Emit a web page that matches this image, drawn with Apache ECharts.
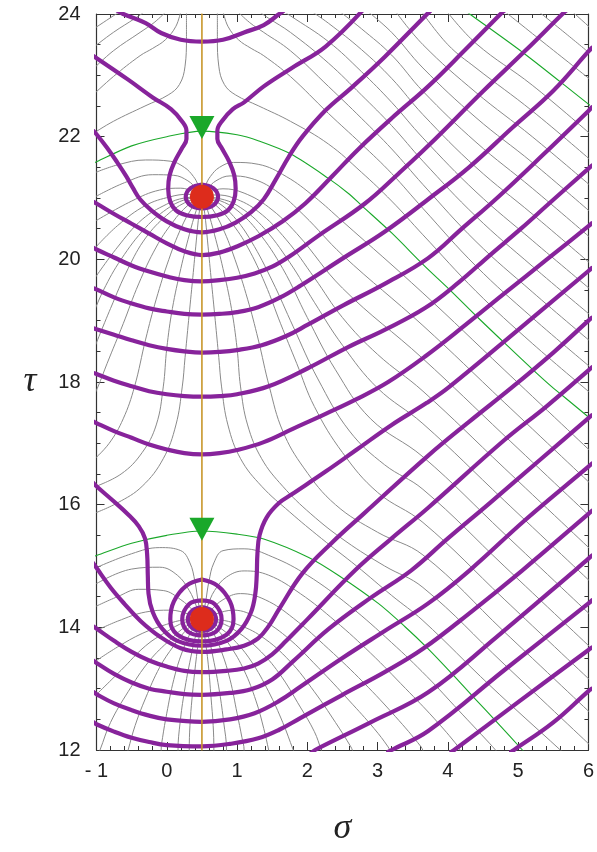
<!DOCTYPE html>
<html>
<head>
<meta charset="utf-8">
<script src="https://cdn.jsdelivr.net/npm/echarts@6/dist/echarts.min.js"></script>
<style>
  html, body { margin: 0; padding: 0; background: #fff; }
  #chart { width: 597px; height: 852px; }
</style>
</head>
<body>
<div id="chart"></div>
<script>
// Axis ranges and ticks
const sigmaTicks = [-1, 0, 1, 2, 3, 4, 5, 6];
const tauTicks = [12, 14, 16, 18, 20, 22, 24];

// Critical line, zeros and marked points on it
const criticalLine = [[0.5, 12], [0.5, 24]];
const zeroPoints = [[0.5, 14.1347], [0.5, 21.0220]];
const markedPoints = [[0.5, 15.6], [0.5, 22.15]];

// Modulus level curves (thick purple), each a list of [sigma, tau]
const ringUpper = [[0.5,21.22],[0.66,21.16],[0.73,21.02],[0.66,20.88],[0.5,20.83],[0.34,20.88],[0.27,21.02],[0.34,21.16],[0.5,21.22]];
const ringLower1 = [[0.5,14.33],[0.64,14.27],[0.7,14.13],[0.64,13.99],[0.5,13.94],[0.36,13.99],[0.3,14.13],[0.36,14.27],[0.5,14.33]];
const ringLower2 = [[0.5,14.44],[0.68,14.38],[0.78,14.13],[0.7,13.93],[0.5,13.87],[0.3,13.93],[0.22,14.13],[0.32,14.38],[0.5,14.44]];
const ringLower3 = [[0.5,14.78],[0.72,14.68],[0.9,14.42],[0.95,14.13],[0.85,13.88],[0.5,13.77],[0.15,13.88],[0.05,14.13],[0.1,14.42],[0.28,14.68],[0.5,14.78]];
const levelP1 = [[-0.7,24.05],[-0.62,24],[-0.3,23.85],[-0.08,23.69],[0.2,23.58],[0.5,23.55],[0.8,23.58],[1.1,23.7],[1.38,23.82],[1.6,24],[1.66,24.05]];
const levelP2 = [[-1.05,23.32],[-0.55,22.93],[-0.2,22.64],[0.06,22.45],[0.21,22.26],[0.28,22.1],[0.28,21.96],[0.21,21.8],[0.11,21.59],[0.04,21.37],[0.02,21.15],[0.05,20.94],[0.13,20.8],[0.28,20.72],[0.5,20.69],[0.72,20.72],[0.87,20.8],[0.95,20.94],[0.98,21.15],[0.96,21.37],[0.89,21.59],[0.79,21.8],[0.72,21.96],[0.72,22.1],[0.79,22.26],[0.94,22.45],[1.1,22.56],[1.38,22.82],[1.78,23.12],[2.26,23.47],[2.78,24.05]];
const levelC = [[-1.05,22.1],[-1,22.04],[-0.85,21.82],[-0.71,21.59],[-0.58,21.36],[-0.48,21.16],[-0.38,20.98],[-0.22,20.8],[0,20.62],[0.25,20.49],[0.5,20.44],[0.75,20.49],[0.98,20.6],[1.2,20.77],[1.38,20.98],[1.55,21.3],[1.74,21.68],[1.93,22.0],[2.26,22.43],[2.63,22.8],[3.1,23.3],[3.67,23.96],[3.75,24.05]];
const levelD = [[-1.05,20.94],[-1,20.91],[-0.75,20.74],[-0.5,20.58],[-0.25,20.42],[0,20.26],[0.25,20.13],[0.5,20.07],[0.75,20.11],[1.0,20.21],[1.31,20.38],[1.65,20.62],[1.97,20.91],[2.35,21.35],[2.73,21.8],[3.2,22.3],[3.72,22.82],[4.25,23.42],[4.75,24],[4.8,24.05]];
const levelE = [[-1.05,20.19],[-1,20.16],[-0.75,20.03],[-0.5,19.9],[-0.25,19.8],[0,19.72],[0.25,19.66],[0.5,19.64],[0.75,19.66],[1.0,19.7],[1.25,19.77],[1.5,19.88],[1.75,20.05],[2.14,20.37],[2.82,20.91],[3.3,21.4],[3.72,21.85],[4.5,22.74],[5.1,23.4],[5.63,24],[5.68,24.05]];
const levelH = [[-1.05,19.53],[-1,19.51],[-0.75,19.38],[-0.5,19.28],[-0.25,19.2],[0,19.15],[0.25,19.11],[0.5,19.1],[0.75,19.11],[1.0,19.14],[1.3,19.22],[1.6,19.37],[1.9,19.57],[2.51,20.02],[3.1,20.45],[3.72,20.98],[4.3,21.5],[4.92,22.15],[5.5,22.75],[6,23.39],[6.05,23.45]];
const levelI = [[-1.05,18.88],[-1,18.86],[-0.75,18.77],[-0.5,18.68],[-0.25,18.6],[0,18.54],[0.25,18.5],[0.5,18.48],[0.75,18.49],[1.0,18.52],[1.35,18.6],[1.7,18.75],[2.0,18.93],[2.51,19.25],[3.1,19.6],[3.72,20.02],[4.2,20.5],[4.7,21.0],[5.35,21.7],[6,22.42],[6.05,22.48]];
const levelJ = [[-1.05,18.15],[-1,18.13],[-0.75,18.02],[-0.5,17.93],[-0.25,17.85],[0,17.8],[0.25,17.77],[0.5,17.76],[0.75,17.77],[1.0,17.8],[1.45,17.93],[2.0,18.22],[2.58,18.57],[3.1,18.85],[3.68,19.21],[4.15,19.62],[4.6,20.07],[5.04,20.5],[5.44,20.91],[6,21.48],[6.05,21.53]];
const levelK = [[-1.05,17.36],[-1,17.33],[-0.75,17.2],[-0.5,17.09],[-0.25,16.98],[0,16.9],[0.25,16.84],[0.5,16.82],[0.75,16.84],[1.0,16.89],[1.38,17.02],[1.8,17.24],[2.26,17.48],[2.7,17.72],[3.15,18.0],[3.68,18.42],[4.25,18.93],[4.8,19.44],[5.4,19.99],[6,20.54],[6.05,20.59]];
const levelL = [[-1.05,16.36],[-1,16.3],[-0.78,16.08],[-0.55,15.84],[-0.4,15.65],[-0.31,15.45],[-0.28,15.2],[-0.27,14.85],[-0.26,14.55],[-0.2,14.25],[-0.06,13.97],[0.15,13.78],[0.5,13.7],[0.85,13.78],[1.06,13.97],[1.2,14.25],[1.26,14.55],[1.28,14.85],[1.29,15.2],[1.32,15.5],[1.42,15.79],[1.6,16.03],[1.78,16.17],[2.26,16.54],[2.73,16.92],[3.2,17.3],[3.7,17.66],[4.02,17.92],[5.0,18.85],[6,19.81],[6.05,19.86]];
const levelM = [[-1.05,15.05],[-1,14.97],[-0.8,14.65],[-0.6,14.38],[-0.37,14.1],[-0.1,13.85],[0.2,13.66],[0.5,13.6],[0.85,13.64],[1.1,13.7],[1.3,13.82],[1.45,14.02],[1.6,14.3],[1.93,14.88],[2.35,15.38],[2.8,15.85],[3.72,16.8],[4.3,17.35],[4.92,17.92],[5.5,18.48],[6,19.0],[6.05,19.05]];
const levelN = [[-1.05,14.02],[-1,13.98],[-0.75,13.78],[-0.5,13.6],[-0.25,13.46],[0,13.36],[0.25,13.29],[0.5,13.27],[0.85,13.29],[1.1,13.33],[1.3,13.41],[1.5,13.56],[1.7,13.78],[2.0,14.13],[2.68,14.93],[3.2,15.45],[3.72,15.95],[4.8,17.05],[5.4,17.6],[6,18.19],[6.05,18.24]];
const levelO = [[-1.05,13.46],[-1,13.42],[-0.75,13.24],[-0.5,13.1],[-0.25,13.0],[0,12.95],[0.25,12.91],[0.5,12.9],[0.9,12.93],[1.2,12.99],[1.5,13.15],[1.8,13.45],[2.3,13.97],[2.9,14.48],[3.48,14.93],[4.0,15.45],[4.6,16.03],[5.3,16.72],[6,17.41],[6.05,17.46]];
const levelP = [[-1.05,12.95],[-1,12.91],[-0.75,12.76],[-0.5,12.65],[-0.25,12.56],[0,12.5],[0.5,12.46],[0.9,12.5],[1.25,12.6],[1.6,12.8],[1.9,13.03],[2.5,13.5],[3.1,13.94],[3.72,14.39],[4.31,14.93],[5.1,15.75],[6,16.62],[6.05,16.67]];
const levelQ = [[-1.05,12.46],[-1,12.42],[-0.75,12.3],[-0.5,12.2],[-0.25,12.13],[0,12.08],[0.5,12.06],[0.9,12.1],[1.3,12.19],[1.6,12.33],[1.9,12.52],[2.5,12.9],[3.1,13.27],[3.645,13.65],[4.35,14.27],[5.06,14.93],[6,15.85],[6.05,15.9]];
const levelR = [[2.05,11.95],[2.11,12.0],[2.9,12.45],[3.72,12.94],[4.7,13.85],[5.81,14.93],[6,15.12],[6.05,15.17]];
const levelS = [[3.15,11.97],[3.2,12.0],[3.72,12.31],[4.8,13.3],[6,14.39],[6.05,14.44]];
const levelT = [[4.05,11.97],[4.09,12.0],[5.0,12.78],[6,13.63],[6.05,13.67]];
const levelU = [[4.9,11.97],[4.94,12.0],[5.5,12.45],[6,12.96],[6.05,13.0]];

// Phase curves through the marked points (thin green)
const greenUpper = [[-1.05,21.56],[-1,21.59],[-0.5,21.85],[0,22.0],[0.5,22.09],[1.0,22.03],[1.31,21.93],[1.76,21.72],[2.3,21.32],[2.59,21.07],[2.77,20.88],[3.2,20.43],[3.67,19.89],[4.02,19.51],[4.4,19.08],[4.82,18.62],[5.2,18.21],[5.48,17.92],[5.63,17.78],[6,17.43],[6.05,17.38]];
const greenLower = [[-1.05,15.15],[-1,15.17],[-0.5,15.37],[0,15.5],[0.5,15.57],[1.0,15.52],[1.38,15.44],[2.02,15.14],[2.44,14.85],[3.01,14.39],[3.39,14.01],[3.72,13.65],[4.07,13.23],[4.35,12.88],[4.7,12.45],[5.06,12.0],[5.1,11.95]];
const greenTop = [[4.25,24.05],[4.31,24],[5.08,23.36],[6,22.53],[6.05,22.49]];

// Phase curves (thin grey) above the upper marked point, left of the critical line
const phaseTopLeft = [
  [[0.28,24.05],[0.28,23.6],[0.26,23.15],[0.18,22.85],[0.02,22.68],[-0.31,22.5],[-0.76,22.25],[-1.05,22.05]],
  [[0.2,24.05],[0.13,23.8],[-0.02,23.58],[-0.2,23.44],[-0.38,23.32],[-0.76,22.98],[-1.05,22.68]],
  [[0.0,24.05],[-0.18,23.86],[-0.38,23.7],[-0.76,23.4],[-1.05,23.1]],
  [[-0.3,24.05],[-0.45,23.93],[-0.76,23.7],[-1.05,23.45]],
  [[-0.65,24.05],[-0.76,23.97],[-1.05,23.75]]
];
// ... and right of it, down to the upper green curve
const phaseTopRight = [
  [[0.72,24.05],[0.72,23.6],[0.74,23.15],[0.82,22.85],[0.98,22.68],[1.31,22.5],[1.76,22.25],[2.3,21.88],[2.77,21.42],[3.2,20.95],[3.645,20.4],[4.4,19.48],[5.2,18.63],[6.05,17.8]],
  [[0.8,24.05],[0.87,23.8],[1.02,23.58],[1.2,23.44],[1.38,23.32],[1.76,22.98],[2.3,22.38],[2.77,21.88],[3.2,21.4],[3.645,20.83],[4.4,19.89],[5.2,19.05],[6.05,18.22]],
  [[1.0,24.05],[1.18,23.86],[1.38,23.7],[1.76,23.4],[2.3,22.82],[2.77,22.3],[3.2,21.8],[3.645,21.22],[4.4,20.29],[5.2,19.47],[6.05,18.64]],
  [[1.3,24.05],[1.45,23.93],[1.76,23.7],[2.3,23.2],[2.77,22.68],[3.2,22.18],[3.645,21.6],[4.4,20.7],[5.2,19.89],[6.05,19.07]],
  [[1.65,24.05],[1.76,23.97],[2.3,23.55],[2.77,23.06],[3.2,22.56],[3.645,21.98],[4.4,21.1],[5.2,20.31],[6.05,19.49]],
  [[2.05,24.05],[2.3,23.85],[2.77,23.42],[3.2,22.95],[3.645,22.36],[4.4,21.5],[5.2,20.74],[6.05,19.91]],
  [[2.45,24.05],[2.77,23.76],[3.2,23.33],[3.645,22.74],[4.4,21.91],[5.2,21.16],[6.05,20.33]],
  [[2.85,24.05],[3.2,23.7],[3.645,23.12],[4.4,22.31],[5.2,21.58],[6.05,20.75]],
  [[3.25,24.05],[3.645,23.5],[4.4,22.72],[5.2,22.0],[6.05,21.18]],
  [[3.62,24.05],[4.0,23.5],[4.4,23.12],[5.2,22.42],[6.05,21.6]],
  [[3.98,24.05],[4.4,23.52],[5.2,22.84],[6.05,22.02]],
  [[4.8,24.05],[5.4,23.5],[6.05,22.91]],
  [[5.28,24.05],[5.7,23.66],[6.05,23.33]],
  [[5.76,24.05],[6.05,23.75]]
];

// Phase curves leaving the upper zero
const spokesUpper = [
  [[0.5,21.02],[0.45,21.2],[0.38,21.35],[0.25,21.5],[0.05,21.6],[-0.3,21.62],[-0.7,21.54],[-1.05,21.4]],
  [[0.5,21.02],[0.42,21.15],[0.3,21.28],[0.1,21.37],[-0.2,21.38],[-0.6,21.25],[-1.05,21.0]],
  [[0.5,21.02],[0.38,21.1],[0.2,21.16],[-0.1,21.13],[-0.5,20.95],[-1.05,20.6]],
  [[0.5,21.02],[0.3,21.06],[0.05,21.02],[-0.3,20.88],[-0.7,20.55],[-1.05,20.15]],
  [[0.5,21.02],[0.25,21.0],[0.0,20.9],[-0.35,20.65],[-0.7,20.2],[-1.05,19.65]],
  [[0.5,21.02],[0.25,20.97],[0.0,20.82],[-0.3,20.52],[-0.65,20.0],[-0.9,19.5],[-1.05,19.1]],
  [[0.5,21.02],[0.25,20.92],[0.0,20.72],[-0.3,20.35],[-0.55,19.85],[-0.8,19.2],[-1.05,18.5]],
  [[0.5,21.02],[0.3,20.88],[0.08,20.6],[-0.15,20.2],[-0.4,19.6],[-0.62,18.95],[-0.85,18.3],[-0.98,17.92],[-1.05,17.75]],
  [[0.5,21.02],[0.36,20.84],[0.2,20.5],[0.03,20.0],[-0.15,19.35],[-0.3,18.7],[-0.46,17.92],[-0.62,17.4],[-0.82,17.0],[-1.05,16.72]],
  [[0.5,21.02],[0.42,20.8],[0.32,20.4],[0.2,19.85],[0.08,19.2],[0.0,18.55],[-0.05,17.92],[-0.15,17.3],[-0.35,16.85],[-0.65,16.5],[-1.05,16.28]],
  [[0.5,21.02],[0.46,20.75],[0.42,20.3],[0.37,19.7],[0.31,19.0],[0.26,18.4],[0.22,17.92],[0.13,17.3],[-0.05,16.75],[-0.35,16.3],[-0.7,16.03],[-1.05,15.85]],
  [[0.5,21.02],[0.55,21.2],[0.62,21.35],[0.75,21.5],[0.95,21.58],[1.3,21.55],[1.7,21.35],[2.1,21.02],[2.5,20.62],[3.645,19.45],[4.8,18.2],[6.05,16.85]],
  [[0.5,21.02],[0.58,21.15],[0.7,21.28],[0.9,21.36],[1.2,21.32],[1.55,21.12],[1.95,20.72],[2.5,20.07],[3.645,18.92],[4.8,17.67],[6.05,16.32]],
  [[0.5,21.02],[0.62,21.1],[0.8,21.15],[1.1,21.08],[1.45,20.85],[1.85,20.42],[2.5,19.53],[3.645,18.38],[4.8,17.13],[6.05,15.78]],
  [[0.5,21.02],[0.7,21.05],[0.95,21.0],[1.3,20.78],[1.7,20.32],[2.1,19.7],[2.5,19.05],[3.0,18.45],[3.645,17.85],[4.8,16.6],[6.05,15.25]],
  [[0.5,21.02],[0.75,20.99],[1.0,20.88],[1.35,20.55],[1.75,19.95],[2.1,19.3],[2.5,18.6],[3.0,17.9],[3.645,17.32],[4.8,16.07],[6.05,14.72]],
  [[0.5,21.02],[0.75,20.96],[1.0,20.8],[1.3,20.45],[1.65,19.85],[2.0,19.05],[2.4,18.2],[2.9,17.4],[3.645,16.78],[4.8,15.53],[6.05,14.18]],
  [[0.5,21.02],[0.72,20.93],[0.95,20.7],[1.2,20.3],[1.5,19.65],[1.8,18.9],[2.15,18.05],[2.6,17.2],[3.1,16.65],[3.645,16.25],[4.8,15.0],[6.05,13.65]],
  [[0.5,21.02],[0.7,20.88],[0.92,20.6],[1.15,20.2],[1.4,19.6],[1.62,18.95],[1.85,18.3],[2.1,17.6],[2.5,16.85],[3.0,16.2],[3.645,15.71],[4.8,14.46],[6.05,13.11]],
  [[0.5,21.02],[0.64,20.84],[0.8,20.5],[0.97,20.0],[1.15,19.35],[1.3,18.7],[1.46,17.92],[1.65,17.2],[1.95,16.6],[2.4,16.0],[3.0,15.55],[3.645,15.18],[4.8,13.93],[6.05,12.58]],
  [[0.5,21.02],[0.58,20.8],[0.68,20.4],[0.8,19.85],[0.92,19.2],[1.0,18.55],[1.05,17.92],[1.15,17.3],[1.35,16.75],[1.65,16.3],[2.05,15.85],[2.55,15.4],[3.1,15.0],[3.645,14.65],[4.8,13.4],[6.05,12.05]],
  [[0.5,21.02],[0.54,20.75],[0.58,20.3],[0.63,19.7],[0.69,19.0],[0.74,18.4],[0.78,17.92],[0.87,17.3],[1.05,16.75],[1.35,16.3],[1.75,15.88],[2.2,15.45],[2.7,15.0],[3.2,14.52],[3.645,14.11],[4.6,13.05],[5.6,12.0],[5.65,11.95]]
];

// Phase curves leaving the lower zero
const spokesLower = [
  [[0.5,14.13],[0.45,14.4],[0.4,14.75],[0.33,15.05],[0.2,15.25],[-0.1,15.3],[-0.5,15.2],[-1.05,14.95]],
  [[0.5,14.13],[0.42,14.35],[0.32,14.6],[0.15,14.85],[-0.1,14.98],[-0.5,14.95],[-1.05,14.68]],
  [[0.5,14.13],[0.38,14.27],[0.2,14.45],[-0.05,14.6],[-0.4,14.62],[-0.7,14.5],[-1.05,14.32]],
  [[0.5,14.13],[0.3,14.22],[0.05,14.28],[-0.3,14.25],[-0.7,14.1],[-1.05,13.92]],
  [[0.5,14.13],[0.25,14.12],[0.0,14.05],[-0.35,13.9],[-0.7,13.68],[-1.05,13.42]],
  [[0.5,14.13],[0.25,14.08],[0.0,13.93],[-0.3,13.7],[-0.65,13.3],[-1.05,12.85]],
  [[0.5,14.13],[0.28,14.02],[0.05,13.8],[-0.25,13.45],[-0.55,12.95],[-0.8,12.45],[-0.95,12.0],[-0.97,11.95]],
  [[0.5,14.13],[0.3,13.98],[0.1,13.7],[-0.1,13.35],[-0.3,12.85],[-0.45,12.4],[-0.55,12.0],[-0.56,11.95]],
  [[0.5,14.13],[0.36,13.95],[0.22,13.6],[0.1,13.15],[0.0,12.6],[-0.06,12.2],[-0.08,12.0],[-0.08,11.95]],
  [[0.5,14.13],[0.42,13.9],[0.34,13.5],[0.25,12.95],[0.19,12.45],[0.16,12.0],[0.16,11.95]],
  [[0.5,14.13],[0.46,13.85],[0.41,13.4],[0.36,12.85],[0.33,12.4],[0.32,12.0],[0.32,11.95]],
  [[0.5,14.13],[0.55,14.4],[0.6,14.75],[0.67,15.05],[0.8,15.25],[1.1,15.28],[1.5,15.15],[2.0,14.85],[2.6,14.35],[3.2,13.75],[3.7,13.2],[4.15,12.65],[4.6,12.1],[4.7,11.97]],
  [[0.5,14.13],[0.58,14.35],[0.68,14.6],[0.85,14.82],[1.1,14.92],[1.45,14.85],[1.9,14.55],[2.4,14.1],[2.9,13.58],[3.4,13.0],[3.8,12.52],[4.15,12.05],[4.18,11.97]],
  [[0.5,14.13],[0.62,14.27],[0.8,14.45],[1.05,14.55],[1.4,14.45],[1.8,14.15],[2.3,13.65],[2.8,13.1],[3.25,12.55],[3.62,12.05],[3.65,11.97]],
  [[0.5,14.13],[0.7,14.22],[0.95,14.28],[1.3,14.15],[1.7,13.85],[2.15,13.35],[2.6,12.8],[2.95,12.35],[3.15,12.05],[3.18,11.97]],
  [[0.5,14.13],[0.75,14.12],[1.0,14.05],[1.35,13.85],[1.75,13.45],[2.1,12.95],[2.4,12.45],[2.62,12.05],[2.65,11.97]],
  [[0.5,14.13],[0.75,14.08],[1.0,13.93],[1.3,13.65],[1.6,13.25],[1.9,12.7],[2.1,12.3],[2.2,12.0],[2.22,11.95]],
  [[0.5,14.13],[0.72,14.02],[0.95,13.8],[1.2,13.45],[1.45,12.95],[1.65,12.45],[1.8,12.0],[1.82,11.95]],
  [[0.5,14.13],[0.7,13.98],[0.9,13.7],[1.1,13.3],[1.27,12.8],[1.38,12.35],[1.45,12.0],[1.46,11.95]],
  [[0.5,14.13],[0.64,13.95],[0.78,13.6],[0.9,13.15],[1.0,12.6],[1.07,12.2],[1.1,12.0],[1.1,11.95]],
  [[0.5,14.13],[0.58,13.9],[0.66,13.5],[0.75,12.95],[0.81,12.45],[0.85,12.0],[0.85,11.95]],
  [[0.5,14.13],[0.54,13.85],[0.59,13.4],[0.63,12.85],[0.66,12.4],[0.67,12.0],[0.67,11.95]]
];

const modulusCurves = [ringUpper, ringLower1, ringLower2, ringLower3, levelP1, levelP2, levelC, levelD, levelE, levelH, levelI, levelJ, levelK, levelL, levelM, levelN, levelO, levelP, levelQ, levelR, levelS, levelT, levelU];
const greenCurves = [greenUpper, greenLower, greenTop];
const phaseCurves = [].concat(phaseTopLeft, phaseTopRight, spokesUpper, spokesLower);

const PURPLE = '#87239b';
const GREEN = '#1aa82a';
const ORANGE = '#c8962a';
const GREY = '#8a8a8a';
const AXIS = '#333';

function curveSeries(pts, color, width, z, smooth) {
  return {
    type: 'line', data: pts, showSymbol: false, symbol: 'none', smooth: smooth,
    lineStyle: { color: color, width: width, cap: 'round', join: 'round' },
    z: z, silent: true, clip: true, animation: false
  };
}

const series = [];
phaseCurves.forEach(c => series.push(curveSeries(c, GREY, 1, 2, 0.4)));
greenCurves.forEach(c => series.push(curveSeries(c, GREEN, 1.1, 3, 0.3)));
modulusCurves.forEach(c => series.push(curveSeries(c, PURPLE, 4.2, 4, 0.4)));
series.push(curveSeries(criticalLine, ORANGE, 1.6, 5, false));
series.push({
  type: 'scatter', data: zeroPoints, symbol: 'circle', symbolSize: 24,
  itemStyle: { color: '#dd2c1c', opacity: 1 }, z: 6, silent: true, animation: false
});
series.push({
  type: 'scatter', data: markedPoints, symbol: 'triangle', symbolRotate: 180, symbolSize: [25, 23],
  itemStyle: { color: GREEN, opacity: 1 }, z: 6, silent: true, animation: false
});

function xAx(pos, labels) {
  return {
    type: 'value', position: pos, min: sigmaTicks[0], max: sigmaTicks[sigmaTicks.length - 1], interval: 1,
    axisLine: { show: true, onZero: false, lineStyle: { color: AXIS, width: 1.2 } },
    axisTick: { show: true, inside: true, length: 8, lineStyle: { color: AXIS, width: 1 } },
    minorTick: { show: true, splitNumber: 5, length: 4, lineStyle: { color: AXIS, width: 1 } },
    splitLine: { show: false },
    axisLabel: {
      show: labels, margin: 11, fontSize: 20, color: '#222', fontFamily: 'Liberation Sans',
      formatter: v => (v < 0 ? '- ' + Math.abs(v) : String(v))
    },
    name: labels ? 'σ' : '', nameLocation: 'middle', nameGap: 61,
    nameTextStyle: { fontFamily: 'Liberation Serif', fontStyle: 'italic', fontSize: 36, color: '#222' }
  };
}
function yAx(pos, labels) {
  return {
    type: 'value', position: pos, min: tauTicks[0], max: tauTicks[tauTicks.length - 1], interval: 2,
    axisLine: { show: true, onZero: false, lineStyle: { color: AXIS, width: 1.2 } },
    axisTick: { show: true, inside: true, length: 8, lineStyle: { color: AXIS, width: 1 } },
    minorTick: { show: true, splitNumber: 4, length: 4, lineStyle: { color: AXIS, width: 1 } },
    splitLine: { show: false },
    axisLabel: { show: labels, margin: 16, fontSize: 20, color: '#222', fontFamily: 'Liberation Sans' },
    name: labels ? 'τ' : '', nameLocation: 'middle', nameGap: 60, nameRotate: 0,
    nameTextStyle: { fontFamily: 'Liberation Serif', fontStyle: 'italic', fontSize: 36, color: '#222' }
  };
}

const chart = echarts.init(document.getElementById('chart'), null, { renderer: 'canvas' });
chart.setOption({
  animation: false,
  backgroundColor: '#fff',
  grid: { left: 96.5, right: 5.5, top: 14, bottom: 95.5, containLabel: false },
  xAxis: [xAx('bottom', true), xAx('top', false)],
  yAxis: [yAx('left', true), yAx('right', false)],
  series: series
});
</script>
</body>
</html>
